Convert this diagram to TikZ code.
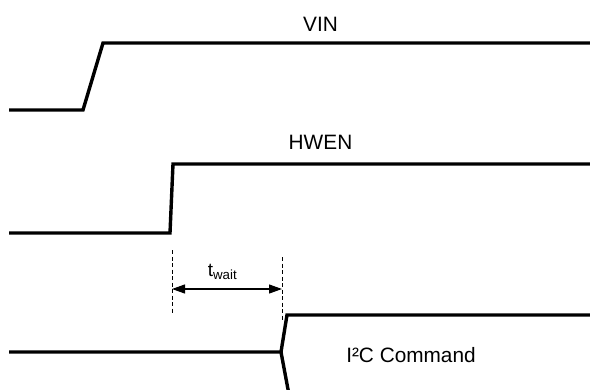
\documentclass[tikz,border=0pt]{standalone}
\usepackage{fontspec}
\setmainfont{Liberation Sans}
\usetikzlibrary{arrows.meta}
\begin{document}
\begin{tikzpicture}[x=1pt,y=-1pt,
  signal/.style={line width=3.4pt,line join=miter,line cap=butt},
  guide/.style={line width=1pt,dash pattern=on 4pt off 2.5pt},
  span/.style={line width=1.2pt,{Triangle[length=13pt,width=9pt]}-{Triangle[length=13pt,width=9pt]}},
  lbl/.style={inner sep=0pt,font=\fontsize{20.8}{24}\selectfont}]
\useasboundingbox (0,0) rectangle (590,389);
% VIN
\coordinate (v0) at (9,110);
\coordinate (v1) at (83,110);
\coordinate (v2) at (103,43);
\coordinate (v3) at (592,43);
\draw[signal] (v0) -- (v1) -- (v2) -- (v3);
\node[lbl] (vin) at (320.5,24) {VIN};
% HWEN
\coordinate (h0) at (9,233);
\coordinate (h1) at (170,233);
\coordinate (h2) at (173,164);
\coordinate (h3) at (592,164);
\draw[signal] (h0) -- (h1) -- (h2) -- (h3);
\node[lbl] (hwen) at (320.5,142.5) {HWEN};
% I2C
\coordinate (i0) at (9,352);
\coordinate (i1) at (281,352);
\coordinate (i2) at (287,315);
\coordinate (i3) at (592,315);
\coordinate (i4) at (288.5,392);
\draw[signal] (i0) -- (i1) -- (i2) -- (i3);
\draw[signal] (i1) -- (i4);
\node[lbl] (i2c) at (411,355.5) {I²C Command};
% t_wait
\coordinate (d1t) at (172,250);
\coordinate (d1b) at (172,313);
\coordinate (d2t) at (282,257);
\coordinate (d2b) at (282,320);
\draw[guide] (d1t) -- (d1b);
\draw[guide] (d2t) -- (d2b);
\coordinate (a1) at (172,289);
\coordinate (a2) at (282,289);
\draw[span] (a1) -- (a2);
\node[lbl,font=\fontsize{19}{22}\selectfont] (tw) at (222.5,272) {t\textsubscript{wait}};
\end{tikzpicture}
\end{document}
